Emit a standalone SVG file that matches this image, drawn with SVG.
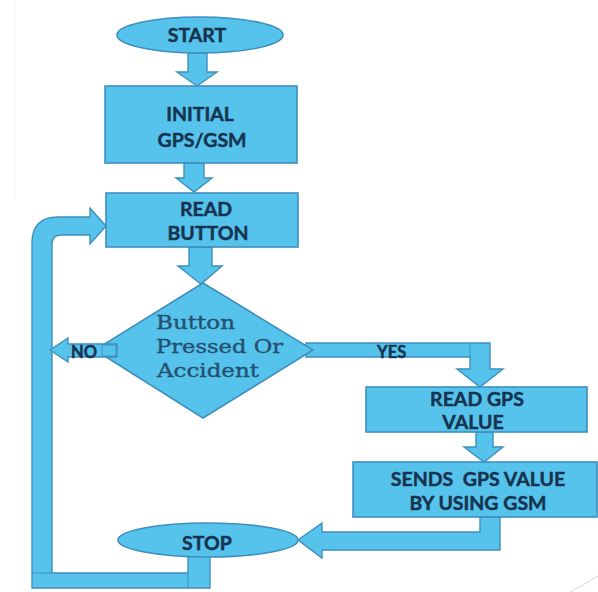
<svg xmlns="http://www.w3.org/2000/svg" width="598" height="592" viewBox="0 0 598 592">
  <style>
    .shape { fill: #56c3ec; stroke: #3f8fbd; stroke-width: 1.6; stroke-linejoin: miter; }
    .flow { fill: #56c3ec; stroke: #3f8fbd; stroke-width: 1.4; stroke-linejoin: miter; }
    .label { font-family: Lato, "Open Sans", "Liberation Sans", sans-serif; font-weight: bold; font-size: 19.5px; fill: #163350; stroke: #163350; stroke-width: 0.45; text-anchor: middle; }
    .tag { font-family: Lato, "Open Sans", "Liberation Sans", sans-serif; font-weight: bold; font-size: 16.5px; fill: #163350; stroke: #163350; stroke-width: 0.45; }
    .cond { font-family: "DejaVu Serif", "Liberation Serif", serif; font-size: 18px; fill: #24506f; stroke: #24506f; stroke-width: 0.35; }
  </style>
  <rect x="0" y="0" width="598" height="592" fill="#ffffff"/>
  <!-- faint page edges -->
  <line x1="15" y1="0" x2="15" y2="200" stroke="#f3f3f3" stroke-width="1"/>
  <path d="M 570 592 Q 585 584 598 576" fill="none" stroke="#e2e2e2" stroke-width="1.2"/>

  <g id="connectors">
    <!-- START to INITIAL -->
    <path class="flow" d="M 188 53 L 207 53 L 207 72 L 217 72 L 197 86 L 177 72 L 188 72 Z"/>
    <!-- INITIAL to READ BUTTON -->
    <path class="flow" d="M 184 163 L 204 163 L 204 178 L 212 178 L 194 192 L 176 178 L 184 178 Z"/>
    <!-- READ BUTTON to decision -->
    <path class="flow" d="M 189 247 L 212 247 L 212 266 L 222 266 L 201 284 L 178 266 L 189 266 Z"/>
    <!-- YES branch to READ GPS VALUE -->
    <path class="flow" d="M 306 343 L 490 343 L 490 369 L 503 369 L 480 387 L 457 369 L 470 369 L 470 357 L 306 357 Z"/>
    <line x1="470" y1="343" x2="470" y2="357" stroke="#3f8fbd" stroke-width="1"/>
    <!-- READ GPS VALUE to SENDS -->
    <path class="flow" d="M 476 432 L 493 432 L 493 447 L 503 447 L 484 462 L 464 447 L 476 447 Z"/>
    <!-- SENDS to STOP -->
    <path class="flow" d="M 480 517 L 500 517 L 500 550 L 322 550 L 322 558 L 298 540 L 322 523 L 322 532 L 480 532 Z"/>
    <!-- loop back from STOP to READ BUTTON -->
    <path class="flow" d="M 32 588 L 210 588 L 210 552 L 188 552 L 188 573 L 52 573 L 52 244 Q 52 235 61 235 L 90 235 L 90 244 L 106 226 L 90 208 L 90 217 L 58 217 Q 32 217 32 243 Z"/>
    <line x1="188" y1="573" x2="188" y2="588" stroke="#3f8fbd" stroke-width="1"/>
    <line x1="32" y1="573" x2="52" y2="573" stroke="#3f8fbd" stroke-width="1"/>
  </g>

  <g id="start">
    <ellipse class="shape" cx="200" cy="35" rx="83" ry="18"/>
    <text class="label" x="197" y="42">START</text>
  </g>

  <g id="initial">
    <rect class="shape" x="105" y="86" width="192" height="77"/>
    <text class="label" x="200" y="121">INITIAL</text>
    <text class="label" x="202" y="147">GPS/GSM</text>
  </g>

  <g id="read-button">
    <rect class="shape" x="106" y="193" width="192" height="54"/>
    <text class="label" x="206" y="216">READ</text>
    <text class="label" x="208" y="240">BUTTON</text>
  </g>

  <g id="decision">
    <polygon class="shape" points="203,283 313,350 203,418 95,350"/>
    <text class="cond" x="156" y="329" textLength="79" lengthAdjust="spacingAndGlyphs">Button</text>
    <text class="cond" x="156" y="353" textLength="127" lengthAdjust="spacingAndGlyphs">Pressed Or</text>
    <text class="cond" x="157" y="377" textLength="102" lengthAdjust="spacingAndGlyphs">Accident</text>
  </g>

  <g id="no-branch">
    <path class="flow" d="M 117 344 L 117 357 L 68 357 L 68 362 L 50 350 L 68 338 L 68 344 Z"/>
    <rect x="102" y="345" width="14" height="11" fill="none" stroke="#3f8fbd" stroke-width="1"/>
    <text class="tag" x="71" y="358">NO</text>
  </g>

  <g id="yes-label">
    <text class="tag" x="377" y="358">YES</text>
  </g>

  <g id="read-gps">
    <rect class="shape" x="366" y="387" width="221" height="45"/>
    <text class="label" x="477" y="406">READ GPS</text>
    <text class="label" x="473" y="429">VALUE</text>
  </g>

  <g id="send-gps">
    <rect class="shape" x="353" y="462" width="244" height="55"/>
    <text class="label" x="478" y="486" style="white-space:pre">SENDS  GPS VALUE</text>
    <text class="label" x="478" y="510">BY USING GSM</text>
  </g>

  <g id="stop">
    <ellipse class="shape" cx="208" cy="540" rx="90" ry="17"/>
    <text class="label" x="207" y="550">STOP</text>
  </g>
</svg>
